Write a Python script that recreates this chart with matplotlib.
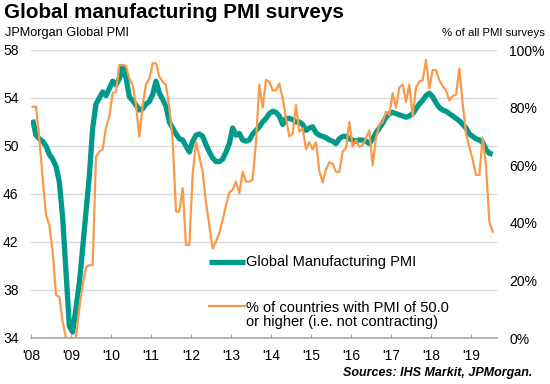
import numpy as np
import matplotlib
matplotlib.use("Agg")
import matplotlib.pyplot as plt
from matplotlib.lines import Line2D

plt.rcParams['font.family'] = ['Liberation Sans', 'DejaVu Sans']

start_year = 2008
pmi = [52.2, 50.9, 50.6, 50.4, 50.0, 49.3, 48.9, 48.3, 47.0, 44.0, 39.5, 35.0,
       34.5, 36.5, 38.6, 41.5, 44.5, 47.5, 51.5, 53.5, 54.0, 54.5, 54.2, 54.8,
       55.4, 55.1, 55.6, 56.6, 55.7, 54.1, 53.8, 53.4, 53.0, 53.1, 53.5, 53.7,
       54.3, 55.4, 54.4, 53.9, 53.3, 52.0, 51.5, 51.0, 50.6, 50.5, 50.0, 49.5,
       50.4, 50.9, 51.0, 50.8, 50.1, 49.5, 49.0, 48.7, 48.7, 48.9, 49.5, 50.2,
       51.5, 50.9, 51.05, 50.5, 50.4, 50.5, 51.0, 51.3, 51.6, 52.0, 52.3, 52.7,
       52.9, 52.8, 52.5, 51.8, 52.3, 52.3, 52.2, 52.0, 52.0, 51.8, 51.3, 51.5,
       51.6, 51.1, 50.9, 50.8, 50.7, 50.5, 50.4, 50.2, 50.6, 50.8, 50.8, 50.6,
       50.5, 50.4, 50.5, 50.5, 50.4, 50.2, 50.6, 51.1, 51.5, 51.9, 52.4, 52.7,
       52.8, 52.7, 52.6, 52.5, 52.4, 52.5, 52.7, 53.1, 53.5, 53.8, 54.2, 54.4,
       54.1, 53.6, 53.2, 53.0, 52.9, 52.7, 52.5, 52.3, 52.1, 51.8, 51.5, 51.0,
       50.8, 50.6, 50.5, 50.3, 49.7, 49.4, 49.3]
share = [80.3, 80.3, 69.3, 55.4, 42.7, 39.2, 30.0, 14.9, 14.3, 5.7, 0, 0,
         0, 0, 10.4, 18.4, 24.5, 25.3, 25.3, 63.0, 64.7, 65.5, 73.0, 77.0,
         85.0, 85.5, 94.8, 94.8, 94.5, 90.0, 87.8, 80.9, 69.9, 80.9, 88.0, 90.0,
         95.4, 95.4, 90.7, 89.0, 87.8, 80.0, 68.75, 43.9, 43.9, 52.0, 32.3, 32.3,
         56.6, 68.2, 63.0, 57.7, 47.0, 39.0, 31.0, 33.5, 36.5, 41.0, 46.0, 50.5,
         51.5, 54.3, 50.2, 57.7, 54.3, 54.3, 55.0, 68.0, 88.0, 80.0, 89.6, 89.0,
         86.0, 86.0, 88.4, 83.2, 76.3, 70.0, 71.0, 80.9, 71.6, 72.8, 65.5, 68.0,
         65.5, 68.0, 58.0, 54.0, 58.5, 61.0, 60.5, 57.7, 57.7, 64.7, 66.0, 75.0,
         66.5, 68.75, 66.4, 67.0, 69.5, 72.0, 60.0, 69.5, 74.0, 75.0, 78.5, 77.5,
         85.0, 80.0, 87.0, 88.0, 82.0, 88.0, 77.0, 87.0, 89.0, 89.5, 96.5, 86.7,
         93.0, 93.0, 89.5, 87.5, 86.0, 82.5, 84.0, 84.5, 93.6, 81.5, 71.0, 66.4,
         62.0, 56.6, 56.6, 69.5, 60.0, 40.4, 36.9]
year_ticks = list(range(2008, 2020))
year_labels = ["'08", "'09", "'10", "'11", "'12", "'13", "'14", "'15", "'16", "'17", "'18", "'19"]
left_ticks = [34, 38, 42, 46, 50, 54, 58]
right_ticks = [0, 20, 40, 60, 80, 100]
legend_labels = ['Global Manufacturing PMI',
                 '% of countries with PMI of 50.0\nor higher (i.e. not contracting)']

TEAL = '#00998a'
ORANGE = '#f79a4a'
TXT = '#000000'
W, H = 550, 384

def fx(px):
    return px / W

def fy(py):
    return 1 - py / H

n = len(pmi)
x = start_year + (np.arange(n) + 0.5) / 12.0

fig = plt.figure(figsize=(5.5, 3.84), dpi=100)
ax = fig.add_axes([fx(31), fy(338), (497 - 31) / W, (338 - 50) / H])
ax2 = ax.twinx()

ax.set_xlim(2008, 2008 + (497 - 31) / 40)
ax.set_ylim(34, 58)
ax2.set_ylim(0, 100)

for v in left_ticks[1:]:
    ax.axhline(v, color='#d9d9d9', lw=1.0, zorder=0)

ax.plot(x, pmi, color=TEAL, lw=3.8, solid_capstyle='butt', zorder=3)
ax2.plot(x, share, color=ORANGE, lw=1.6, zorder=4)

for a in (ax, ax2):
    for s in a.spines.values():
        s.set_visible(False)
ax.spines['bottom'].set_visible(True)
ax.spines['bottom'].set_color('#a6a6a6')
ax.spines['bottom'].set_linewidth(1.2)

ax.set_xticks(year_ticks)
ax.set_xticklabels(year_labels, fontsize=10, color=TXT)
ax.tick_params(axis='x', direction='in', length=3, color='#a6a6a6', pad=8)
ax.set_yticks(left_ticks)
ax.set_yticklabels([str(v) for v in left_ticks], fontsize=10, color=TXT)
ax.tick_params(axis='y', length=0, pad=9)
ax2.set_yticks(right_ticks)
ax2.set_yticklabels([f"{v}%" for v in right_ticks], fontsize=10, color=TXT)
ax2.tick_params(axis='y', length=0, pad=9)

# legend (drawn manually to match layout)
fig.add_artist(Line2D([fx(209), fx(245)], [fy(262), fy(262)], color=TEAL, lw=3.8,
                      solid_capstyle='butt', transform=fig.transFigure))
fig.add_artist(Line2D([fx(209), fx(245)], [fy(306), fy(306)], color=ORANGE, lw=1.6,
                      transform=fig.transFigure))
fig.text(fx(246), fy(262), legend_labels[0], fontsize=10.5, va='center', ha='left', color=TXT)
fig.text(fx(246), fy(315), legend_labels[1], fontsize=10.5, va='center', ha='left',
         color=TXT, linespacing=1.05)

fig.text(fx(4), fy(13), 'Global manufacturing PMI surveys', fontsize=14.9,
         fontweight='bold', va='center', ha='left', color=TXT)
fig.text(fx(5), fy(33), 'JPMorgan Global PMI', fontsize=9.2, va='center', ha='left', color=TXT)
fig.text(fx(545), fy(33), '% of all PMI surveys', fontsize=8.2, va='center', ha='right', color=TXT)
fig.text(fx(532), fy(373), 'Sources: IHS Markit, JPMorgan.', fontsize=9,
         fontweight='bold', fontstyle='italic', va='center', ha='right', color=TXT)

fig.savefig('out.png', dpi=100)
